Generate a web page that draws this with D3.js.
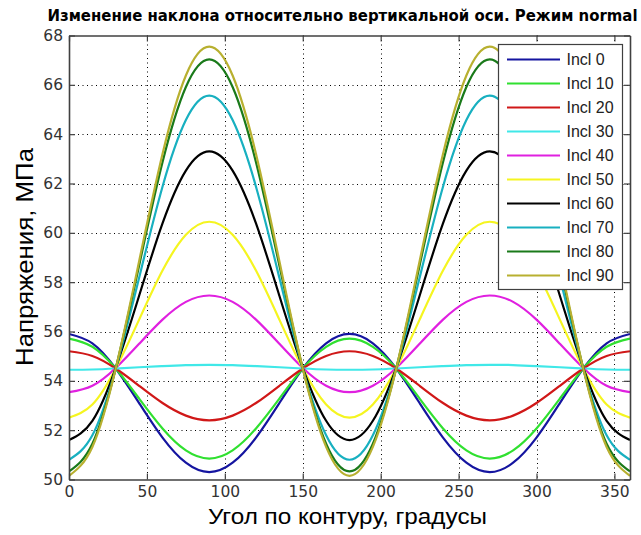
<!DOCTYPE html>
<html>
<head>
<meta charset="utf-8">
<script src="https://cdn.jsdelivr.net/npm/d3@7"></script>
<style>
  body { margin: 0; background: #ffffff; }
  svg { display: block; }
</style>
</head>
<body>
<svg id="chart" width="641" height="535"></svg>
<script>
// Contour angle, degrees
const angles = [0, 15, 30, 45, 60, 75, 90, 105, 120, 135, 150, 165, 180,
                195, 210, 225, 240, 255, 270, 285, 300, 315, 330, 345, 360];

// Stress along the contour, MPa, for each inclination
const incl0  = [55.90, 55.52, 54.50, 53.10, 51.70, 50.68, 50.30, 50.68, 51.70, 53.10, 54.50, 55.52, 55.90,
                55.52, 54.50, 53.10, 51.70, 50.68, 50.30, 50.68, 51.70, 53.10, 54.50, 55.52, 55.90];
const incl10 = [55.71, 55.38, 54.50, 53.28, 52.07, 51.18, 50.85, 51.18, 52.07, 53.28, 54.50, 55.38, 55.71,
                55.38, 54.50, 53.28, 52.07, 51.18, 50.85, 51.18, 52.07, 53.28, 54.50, 55.38, 55.71];
const incl20 = [55.20, 55.01, 54.50, 53.80, 53.10, 52.59, 52.40, 52.59, 53.10, 53.80, 54.50, 55.01, 55.20,
                55.01, 54.50, 53.80, 53.10, 52.59, 52.40, 52.59, 53.10, 53.80, 54.50, 55.01, 55.20];
const incl30 = [54.45, 54.46, 54.50, 54.55, 54.60, 54.64, 54.65, 54.64, 54.60, 54.55, 54.50, 54.46, 54.45,
                54.46, 54.50, 54.55, 54.60, 54.64, 54.65, 54.64, 54.60, 54.55, 54.50, 54.46, 54.45];
const incl40 = [53.54, 53.80, 54.52, 55.50, 56.48, 57.20, 57.46, 57.20, 56.48, 55.50, 54.52, 53.80, 53.54,
                53.80, 54.52, 55.50, 56.48, 57.20, 57.46, 57.20, 56.48, 55.50, 54.52, 53.80, 53.54];
const incl50 = [52.51, 53.04, 54.50, 56.48, 58.47, 59.92, 60.45, 59.92, 58.47, 56.48, 54.50, 53.04, 52.51,
                53.04, 54.50, 56.48, 58.47, 59.92, 60.45, 59.92, 58.47, 56.48, 54.50, 53.04, 52.51];
const incl60 = [51.60, 52.38, 54.53, 57.45, 60.38, 62.52, 63.30, 62.52, 60.38, 57.45, 54.53, 52.38, 51.60,
                52.38, 54.53, 57.45, 60.38, 62.52, 63.30, 62.52, 60.38, 57.45, 54.53, 52.38, 51.60];
const incl70 = [50.80, 51.79, 54.49, 58.18, 61.87, 64.57, 65.56, 64.57, 61.87, 58.18, 54.49, 51.79, 50.80,
                51.79, 54.49, 58.18, 61.87, 64.57, 65.56, 64.57, 61.87, 58.18, 54.49, 51.79, 50.80];
const incl80 = [50.33, 51.45, 54.51, 58.68, 62.86, 65.91, 67.03, 65.91, 62.86, 58.68, 54.51, 51.45, 50.33,
                51.45, 54.51, 58.68, 62.86, 65.91, 67.03, 65.91, 62.86, 58.68, 54.51, 51.45, 50.33];
const incl90 = [50.15, 51.32, 54.50, 58.85, 63.20, 66.38, 67.55, 66.38, 63.20, 58.85, 54.50, 51.32, 50.15,
                51.32, 54.50, 58.85, 63.20, 66.38, 67.55, 66.38, 63.20, 58.85, 54.50, 51.32, 50.15];

const seriesNames  = ["Incl 0", "Incl 10", "Incl 20", "Incl 30", "Incl 40",
                      "Incl 50", "Incl 60", "Incl 70", "Incl 80", "Incl 90"];
const seriesValues = [incl0, incl10, incl20, incl30, incl40, incl50, incl60, incl70, incl80, incl90];
const seriesColors = ["#1515a0", "#30e030", "#d01818", "#40e8e8", "#e020e0",
                      "#f5f520", "#000000", "#18b0c0", "#1a7a1a", "#b8b030"];

const xTicks = [0, 50, 100, 150, 200, 250, 300, 350];
const yTicks = [50, 52, 54, 56, 58, 60, 62, 64, 66, 68];

const titleText = "Изменение наклона относительно вертикальной оси. Режим normal";
const xLabel = "Угол по контуру, градусы";
const yLabel = "Напряжения, МПа";

// ---- layout ----
const box = { left: 69, right: 630, top: 35.5, bottom: 479.5 };
const axisColor = "#404040";
const tickFont = "'DejaVu Sans', sans-serif";

const svg = d3.select("#chart");

const x = d3.scaleLinear().domain([0, 360]).range([box.left, box.right]);
const y = d3.scaleLinear().domain([50, 68]).range([box.bottom, box.top]);

svg.append("rect").attr("width", 641).attr("height", 535).attr("fill", "#ffffff");
svg.append("rect")
  .attr("x", box.left).attr("y", box.top)
  .attr("width", box.right - box.left).attr("height", box.bottom - box.top)
  .attr("fill", "#ffffff");

// dotted grid
const grid = svg.append("g").attr("stroke", "#000").attr("stroke-width", 1)
  .attr("stroke-dasharray", "1,3.5");
grid.selectAll("line.gx")
  .data(xTicks.filter(t => t > 0 && t < 360))
  .join("line").attr("class", "gx")
  .attr("x1", d => Math.round(x(d)) + 0.5).attr("x2", d => Math.round(x(d)) + 0.5)
  .attr("y1", box.top).attr("y2", box.bottom);
grid.selectAll("line.gy")
  .data(yTicks.filter(t => t > 50 && t < 68))
  .join("line").attr("class", "gy")
  .attr("y1", d => Math.round(y(d)) + 0.5).attr("y2", d => Math.round(y(d)) + 0.5)
  .attr("x1", box.left).attr("x2", box.right);

// curves
svg.append("clipPath").attr("id", "plotClip")
  .append("rect")
  .attr("x", box.left).attr("y", box.top)
  .attr("width", box.right - box.left).attr("height", box.bottom - box.top);

const line = d3.line()
  .x((d, i) => x(angles[i]))
  .y(d => y(d))
  .curve(d3.curveNatural);

svg.append("g").attr("clip-path", "url(#plotClip)")
  .selectAll("path")
  .data(seriesValues)
  .join("path")
  .attr("d", d => line(d))
  .attr("fill", "none")
  .attr("stroke", (d, i) => seriesColors[i])
  .attr("stroke-width", 2.2)
  .attr("stroke-linejoin", "round");

// axes: ticks pointing inward on all four sides
function styleAxis(g) {
  g.select(".domain").attr("stroke", axisColor).attr("stroke-width", 1.6);
  g.selectAll(".tick line").attr("stroke", axisColor).attr("stroke-width", 1.2);
  g.selectAll(".tick text").attr("fill", "#333").attr("font-family", tickFont).attr("font-size", 15.5);
}

svg.append("g")
  .attr("transform", `translate(0,${box.bottom})`)
  .call(d3.axisBottom(x).tickValues(xTicks).tickSizeInner(-6).tickSizeOuter(0).tickPadding(6))
  .call(styleAxis);

svg.append("g")
  .attr("transform", `translate(0,${box.top})`)
  .call(d3.axisTop(x).tickValues(xTicks).tickSizeInner(-6).tickSizeOuter(0).tickFormat(""))
  .call(styleAxis);

svg.append("g")
  .attr("transform", `translate(${box.left},0)`)
  .call(d3.axisLeft(y).tickValues(yTicks).tickSizeInner(-6).tickSizeOuter(0).tickPadding(6))
  .call(styleAxis);

svg.append("g")
  .attr("transform", `translate(${box.right},0)`)
  .call(d3.axisRight(y).tickValues(yTicks).tickSizeInner(-6).tickSizeOuter(0).tickFormat(""))
  .call(styleAxis);

// legend
const legend = svg.append("g");
legend.append("rect")
  .attr("x", 498.5).attr("y", 44.5).attr("width", 124).attr("height", 245)
  .attr("fill", "#ffffff").attr("stroke", axisColor).attr("stroke-width", 1.2);

const entries = legend.selectAll("g.entry")
  .data(seriesNames)
  .join("g").attr("class", "entry")
  .attr("transform", (d, i) => `translate(0,${59.5 + i * 24})`);
entries.append("line")
  .attr("x1", 507).attr("x2", 560).attr("y1", 0).attr("y2", 0)
  .attr("stroke", (d, i) => seriesColors[i]).attr("stroke-width", 2.2);
entries.append("text")
  .attr("x", 566.5).attr("dy", "0.36em")
  .attr("font-family", "'Liberation Sans', Arial, sans-serif")
  .attr("font-size", 16).attr("fill", "#222")
  .text(d => d);

// titles
svg.append("text")
  .attr("x", 342.5).attr("y", 20.5)
  .attr("text-anchor", "middle")
  .attr("font-family", "'Liberation Sans Narrow', 'DejaVu Sans Condensed', Arial, sans-serif")
  .attr("font-weight", "bold").attr("font-size", 15)
  .attr("textLength", 590).attr("lengthAdjust", "spacingAndGlyphs")
  .attr("fill", "#000")
  .text(titleText);

svg.append("text")
  .attr("x", 347.5).attr("y", 523.5)
  .attr("text-anchor", "middle")
  .attr("font-family", "'Liberation Sans', Arial, sans-serif")
  .attr("font-size", 22.5)
  .attr("textLength", 279).attr("lengthAdjust", "spacingAndGlyphs")
  .attr("fill", "#000")
  .text(xLabel);

svg.append("text")
  .attr("transform", "translate(33,257) rotate(-90)")
  .attr("text-anchor", "middle")
  .attr("font-family", "'Liberation Sans', Arial, sans-serif")
  .attr("font-size", 23.5)
  .attr("textLength", 218).attr("lengthAdjust", "spacingAndGlyphs")
  .attr("fill", "#000")
  .text(yLabel);
</script>
</body>
</html>
